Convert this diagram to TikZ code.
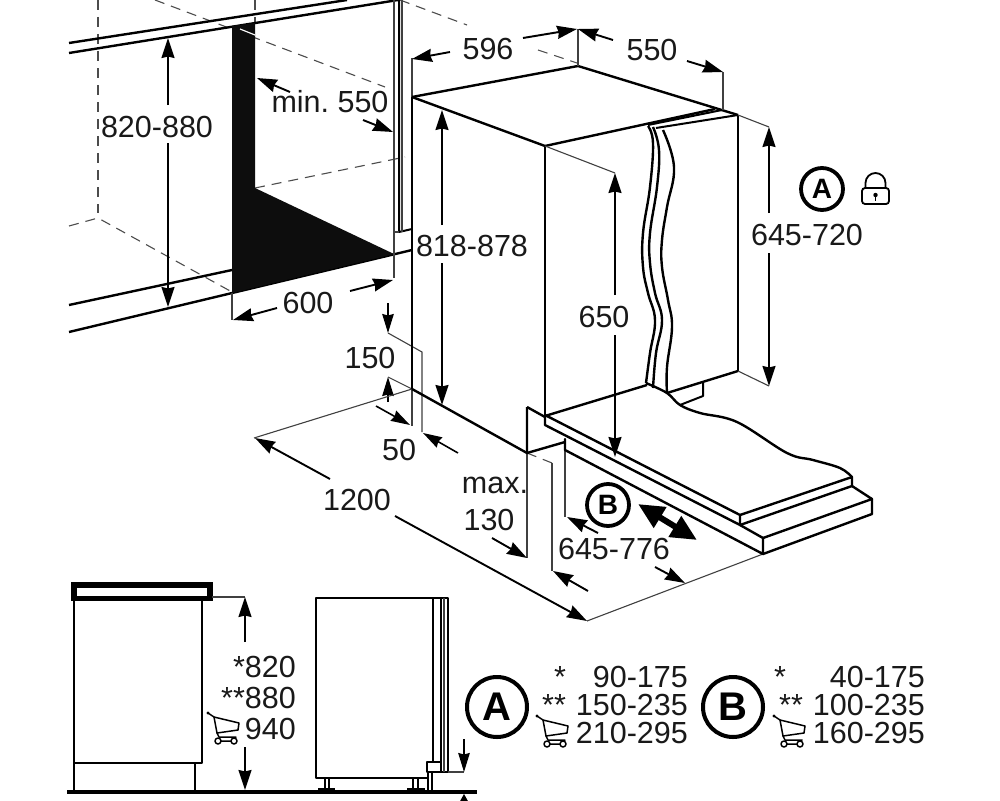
\documentclass[tikz,border=0pt]{standalone}
\usepackage{fontspec}
\setmainfont{Liberation Sans}
\frenchspacing
\usetikzlibrary{arrows.meta}
\newcommand{\cartsym}[2]{%
  \begin{scope}[shift={(#1,#2)},line width=1.5pt,line cap=round,line join=round]
    \fill (2,1) circle (1.7);
    \draw (2,1) -- (8,5) -- (11,21) -- (13,25) -- (30,25);
    \draw (8,5) -- (33,11) -- (32,18) -- (11,21);
    \draw (12,29) circle (3) (28,29) circle (3) (15,29) -- (25,29);
  \end{scope}}
\tikzset{
  x=1pt,y=-1pt,
  thickln/.style={line width=2.4pt,line join=round},
  medln/.style={line width=2pt,line join=round},
  thinln/.style={line width=1.1pt,color=black!75},
  dashln/.style={line width=1.1pt,color=black!70,dash pattern=on 10pt off 7pt},
  dim/.style={line width=1.9pt,-{Stealth[length=20pt,width=13pt,inset=1.5pt]}},
  dims/.style={line width=1.6pt,-{Stealth[length=19pt,width=11.5pt,inset=1.5pt]}},
  lab/.style={font=\fontsize{30.5}{30.5}\selectfont,text=black!90,inner sep=0pt},
  ring/.style={circle,draw,line width=3.8pt,inner sep=0pt,font=\bfseries},
  wave/.style={thickln,smooth,tension=0.7},
}
\begin{document}
\begin{tikzpicture}
\useasboundingbox (0,0) rectangle (1000,800);
\fill[white] (0,0) rectangle (1000,800);
% ---- niche: dashed
\draw[dashln] (98,0) -- (98,213);
\draw[dashln] (255,0) -- (255,23);
\draw[dashln] (155,0) -- (385,87);
\draw[dashln] (400,0) -- (467,25);
\draw[dashln] (538,50) -- (577,63);
\draw[dashln] (69,226) -- (98,218) -- (232,292);
\draw[dashln] (255,188) -- (405,157);
% worktop and plinth
\draw[thickln] (69,43) -- (347,0);
\draw[thickln] (69,53) -- (398,0);
\draw[thickln] (69,305) -- (232,270);
\draw[thickln] (69,332) -- (412,250);
% black shape
\fill[black!95] (232,26) -- (255,23) -- (255,188) -- (394,254) -- (232,293) -- cycle;
\draw[white,line width=1.2pt] (240,29) -- (255,35);
\draw[thinln] (232,293) -- (232,320);
\draw[thinln,line width=1.4pt] (394,0) -- (394,278);
\draw[medln] (399,0) -- (399,232) -- (412,229);
\draw[thinln] (402,0) -- (402,232);
\draw[thinln] (394,232) -- (399,232);
% 820-880
\draw[dim] (168,105) -- (168,38);
\draw[dim] (168,143) -- (168,307);
\node[lab] (t820) at (157,127) {820-880};
% min. 550
\draw[dim] (290,92) -- (257,78);
\draw[dim] (363,120) -- (393,132);
\node[lab] (tmin) at (330,102) {min. 550};
% 600
\draw[dim] (277,308) -- (233,320);
\draw[dim] (350,291) -- (393,280);
\node[lab] (t600) at (308,303) {600};
% 150 and 50
\draw[dims] (388,303) -- (388,333);
\draw[thinln] (388,333) -- (422,352) -- (422,432);
\draw[dims] (388,402) -- (388,377);
\draw[thinln] (388,377) -- (412,389);
\node[lab] (t150) at (370,358) {150};
\draw[dims] (376,406) -- (410,425);
\draw[dims] (458,453) -- (423,433);
\node[lab] (t50) at (399,450) {50};
% 1200
\draw[thinln] (254,438) -- (412,389);
\draw[dim] (330,479) -- (255,438);
\draw[dim] (395,516) -- (587,621);
\node[lab] (t1200) at (357,500) {1200};
% max 130
\draw[thinln] (527,453) -- (527,558);
\draw[dim] (492,538) -- (527,558);
\node[lab] (tmax) at (495,485) {max.};
\node[lab] (t130) at (489,520) {130};
\draw[dashln] (527,453) -- (552,463);
\draw[thinln] (552,463) -- (552,571);
\draw[dim] (588,591) -- (553,571);
\draw[thinln] (565,438) -- (565,517);
\draw[dim] (598,533) -- (567,517);
\draw[thinln] (587,621) -- (763,554);
\draw[dim] (655,567) -- (685,583);
\node[lab] (t645b) at (614,549) {645-776};
% cabinet
\draw[thinln] (412,58) -- (412,97);
\draw[thickln] (412,97) -- (412,300);
\draw[medln] (412,300) -- (412,389);
\draw[thinln] (412,389) -- (412,426);
\draw[thickln] (412,97) -- (578,66) -- (738,115);
\draw[thickln] (412,97) -- (545,146);
\draw[thickln] (545,146) -- (715,109);
\draw[medln] (648,125) -- (722,110);
\draw[medln] (656,128) -- (738,115);
\draw[thickln] (545,146) -- (545,425);
\draw[thickln] (738,115) -- (738,371);
\draw[thickln] (412,389) -- (527,453);
\draw[thickln] (527,407) -- (527,453) -- (565,442);
\draw[thickln] (527,407) -- (545,417);
% door waves
\draw[wave] plot coordinates {(648,126) (653,143) (650,187) (643,233) (643,267) (648,293) (655,320) (650,353) (646,383)};
\draw[wave] plot coordinates {(653,127) (659,150) (657,187) (650,233) (650,263) (655,293) (662,320) (656,353) (653,388)};
\draw[wave] plot coordinates {(663,130) (674,167) (667,207) (662,240) (662,267) (668,300) (672,327) (667,367) (667,393)};
\draw[thickln] (667,393) -- (738,371);
\draw[thinln] (738,371) -- (769,386);
\draw[thinln] (738,115) -- (769,127);
\draw[medln] (680,405) -- (703,396) -- (703,383);
% base and door
\draw[thickln] (545,416) -- (647,385);
\draw[thickln,smooth,tension=0.6] plot coordinates {(646,383) (667,393) (680,405) (700,413) (737,422) (787,453) (813,460) (840,468) (852,477)};
\draw[thickln] (545,415) -- (545,425) -- (740,525) -- (740,515) -- cycle;
\draw[thickln] (740,515) -- (852,477) -- (852,486) -- (740,525);
\draw[thickln] (565,439) -- (565,450) -- (763,554) -- (763,538) -- (740,525);
\draw[thickln] (852,486) -- (872,499) -- (763,538);
\draw[thickln] (872,499) -- (872,514) -- (763,554);
% cabinet dims
\draw[thinln] (578,29) -- (578,66) (723,72) -- (723,110);
\draw[thinln] (545,146) -- (615,173);
\draw[dim] (442,225) -- (442,110);
\draw[dim] (442,263) -- (442,405);
\node[lab] (t818) at (472,246) {818-878};
\draw[dim] (450,52) -- (412,59);
\draw[dim] (523,38) -- (577,29);
\node[lab] (t596) at (488,49) {596};
\draw[dim] (613,40) -- (578,29);
\draw[dim] (687,61) -- (723,72);
\node[lab] (t550) at (652,50) {550};
\draw[dim] (615,295) -- (615,173);
\draw[dim] (615,335) -- (615,457);
\node[lab] (t650) at (604,317) {650};
\draw[dim] (769,213) -- (769,127);
\draw[dim] (769,253) -- (769,386);
\node[lab] (t645) at (807,235) {645-720};
% A + lock
\node[ring,minimum size=42pt,font=\fontsize{28}{28}\selectfont\bfseries] (ca1) at (822,189) {A};
\draw[line width=1.8pt,rounded corners=3pt] (862,188) rectangle (889,204);
\draw[line width=1.8pt] (865.5,188) -- (865.5,183) arc[start angle=-180,end angle=0,radius=10] -- (885.5,188);
\fill (875.5,195) circle (2.2);
\draw[line width=1.6pt] (875.5,195) -- (875.5,201);
% B + double arrow
\node[ring,minimum size=42pt,font=\fontsize{28}{28}\selectfont\bfseries] (cb1) at (608,505) {B};
\draw[line width=6pt,{Stealth[length=26pt,width=23pt,inset=0pt]}-{Stealth[length=26pt,width=23pt,inset=0pt]}] (638,504) -- (697,540);
% bottom left elevation
\draw[line width=2.6pt,draw=black,fill=black] (72,583) rectangle (212,600);
\fill[white] (77,588) rectangle (207,596);
\draw[medln] (74,600) -- (74,790);
\draw[medln] (202,600) -- (202,763) -- (74,763);
\draw[medln] (195,763) -- (195,790);
\draw[line width=4pt] (67,792) -- (477,792);
\draw[thinln] (212,597) -- (245,597);
\draw[dim] (245,642) -- (245,597);
\draw[dim] (245,747) -- (245,790);
\node[lab,anchor=east] (t820b) at (296,667) {*820};
\node[lab,anchor=east] (t880b) at (296,698) {**880};
\node[lab,anchor=east] (t940b) at (296,729) {940};
\cartsym{206}{712}
% bottom right elevation
\draw[medln] (433,598) -- (316,598) -- (316,778) -- (427,778);
\draw[medln] (433,598) -- (448,598) -- (448,772) -- (441,772);
\draw[medln] (433,598) -- (433,762);
\draw[medln] (441,598) -- (441,762);
\draw[thinln] (444,598) -- (444,772);
\draw[medln] (427,762) rectangle (441,772);
\draw[thinln] (448,772) -- (464,772);
\draw[dims] (464,739) -- (464,772);
\draw[medln] (325,778) -- (325,788) (329,778) -- (329,788);
\draw[line width=3pt] (318,789) -- (335,789);
\draw[medln] (413,778) -- (413,788) (418,778) -- (418,788);
\draw[line width=3pt] (407,789) -- (425,789);
\draw[medln] (428,772) -- (428,790) (432,772) -- (432,790);
\fill (464,794) -- (459,803) -- (469,803) -- cycle;
% tables
\node[ring,minimum size=60pt,line width=4pt,font=\fontsize{40}{40}\selectfont\bfseries] (ca2) at (497,707) {A};
\node[ring,minimum size=60pt,line width=4pt,font=\fontsize{40}{40}\selectfont\bfseries] (cb2) at (733,707) {B};
\node[lab,anchor=east] (ra1) at (688,677) {90-175};
\node[lab,anchor=east] (ra2) at (688,705) {150-235};
\node[lab,anchor=east] (ra3) at (688,733) {210-295};
\node[lab,anchor=east] (rb1) at (925,677) {40-175};
\node[lab,anchor=east] (rb2) at (925,705) {100-235};
\node[lab,anchor=east] (rb3) at (925,733) {160-295};
\node[lab] (sa1) at (560,677) {*};
\node[lab] (sa2) at (554,705) {**};
\node[lab] (sb1) at (780,677) {*};
\node[lab] (sb2) at (791,705) {**};
\cartsym{535}{715}
\cartsym{772}{715}
\end{tikzpicture}
\end{document}
